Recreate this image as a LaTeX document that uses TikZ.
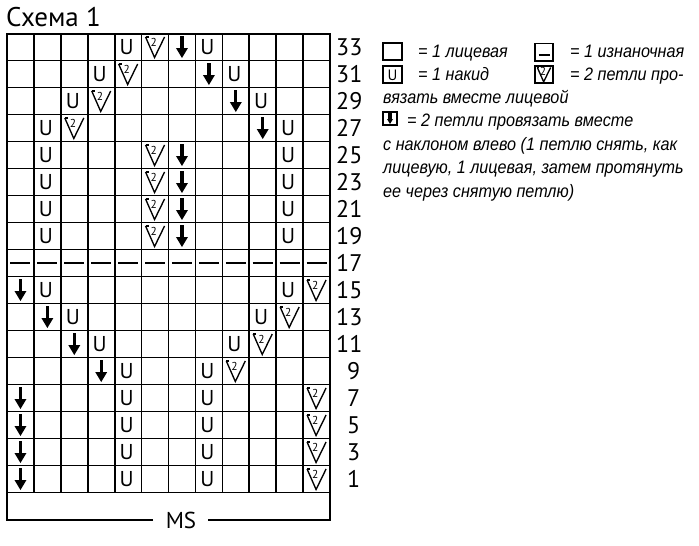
\documentclass[tikz,border=0pt]{standalone}
\usepackage{fontspec}
\setmainfont{PT Sans}
\newfontfamily\legfont[FakeStretch=0.9]{Liberation Sans}
\begin{document}
\begin{tikzpicture}[x=1pt,y=-1pt,
  gridline/.style={line width=1.7pt},
  frameline/.style={line width=2pt},
  lbl/.style={anchor=base west,inner sep=0pt,font=\fontsize{24}{24}\selectfont},
  leg/.style={anchor=base west,inner sep=0pt,font=\legfont\itshape\fontsize{18}{18}\selectfont},
  legbox/.style={line width=1.3pt},
  yo/.pic={\node[inner sep=0pt,font=\fontsize{21.5}{21.5}\selectfont] at (-1.5,0) {U};},
  kt/.pic={\draw[line width=1.35pt,line join=miter] (-9.5,-10) -- (-0.5,10.5) -- (9.5,-10);
           \draw[line width=1.1pt] (-9.5,-10) -- (-6.5,-10);
           \node[inner sep=0pt,font=\fontsize{11.5}{11.5}\selectfont] at (-1.3,-4.5) {2};},
  ssk/.pic={\draw[line width=3.2pt] (0,-11) -- (0,3);
            \fill (-6,1) -- (6,1) -- (0,11) -- cycle;},
  purl/.pic={\draw[line width=2.6pt] (-10,0) -- (10,0);}
]
\useasboundingbox (0,0) rectangle (699,546);
\node[anchor=base west,inner sep=0pt,font=\fontsize{27}{27}\selectfont] (title) at (6,26) {Схема 1};
% grid
\foreach \c in {1,...,11} \draw[gridline] ({7+26.92*\c},33.5) -- ({7+26.92*\c},492.5);
\foreach \r in {1,...,17} \draw[gridline] (7,{33.5+27*\r}) -- (330,{33.5+27*\r});
\draw[frameline] (153,519.5) -- (7,519.5) -- (7,33.5) -- (330,33.5) -- (330,519.5) -- (208,519.5);
\node[anchor=base,inner sep=0pt,font=\fontsize{23}{23}\selectfont] (ms) at (181,528) {MS};
% row numbers
\foreach \i in {0,...,16}{
  \pgfmathtruncatemacro{\lab}{33-2*\i}
  \pgfmathsetmacro{\xx}{\lab>9 ? 336 : 347}
  \node[lbl] (n\lab) at (\xx,{33.5+27*(\i+0.5)+8.5}) {\lab};
}
% symbols
\foreach \c/\i in {5/0,8/0,4/1,9/1,3/2,10/2,2/3,11/3,2/4,11/4,2/5,11/5,2/6,11/6,2/7,11/7,
                   2/9,11/9,3/10,10/10,4/11,9/11,5/12,8/12,5/13,8/13,5/14,8/14,5/15,8/15,5/16,8/16}
  \pic at ({7+26.92*(\c-0.5)},{33.5+27*(\i+0.5)}) {yo};
\foreach \c/\i in {6/0,5/1,4/2,3/3,6/4,6/5,6/6,6/7,12/9,11/10,10/11,9/12,12/13,12/14,12/15,12/16}
  \pic at ({7+26.92*(\c-0.5)},{33.5+27*(\i+0.5)}) {kt};
\foreach \c/\i in {7/0,8/1,9/2,10/3,7/4,7/5,7/6,7/7,1/9,2/10,3/11,4/12,1/13,1/14,1/15,1/16}
  \pic at ({7+26.92*(\c-0.5)},{33.5+27*(\i+0.5)}) {ssk};
\foreach \c in {1,...,12}
  \pic at ({7+26.92*(\c-0.5)},{33.5+27*8.5}) {purl};
% legend
\draw[legbox] (383,43) rectangle (402,60);
\draw[legbox] (535,43.5) rectangle (553,61);
\draw[line width=2pt] (538.5,55) -- (549.5,55);
\draw[legbox] (383,66) rectangle (402,83);
\node[inner sep=0pt,font=\fontsize{15}{15}\selectfont] (lu) at (392.5,75) {U};
\draw[legbox] (535,66) rectangle (553,83);
\pic[scale=0.7] at (544,74.5) {kt};
\draw[legbox] (383,112) rectangle (397,125);
\pic[scale=0.5] at (390,118.5) {ssk};
\node[leg] (l1a) at (418,57) {= 1 лицевая};
\node[leg] (l1b) at (570,57) {= 1 изнаночная};
\node[leg] (l2a) at (418,80) {= 1 накид};
\node[leg] (l2b) at (570,80) {= 2 петли про-};
\node[leg] (l3) at (383,103.5) {вязать вместе лицевой};
\node[leg] (l4) at (407,126) {= 2 петли провязать вместе};
\node[leg] (l5) at (383,150) {с наклоном влево (1 петлю снять, как};
\node[leg] (l6) at (383,173) {лицевую, 1 лицевая, затем протянуть};
\node[leg] (l7) at (383,197) {ее через снятую петлю)};
\end{tikzpicture}
\end{document}
